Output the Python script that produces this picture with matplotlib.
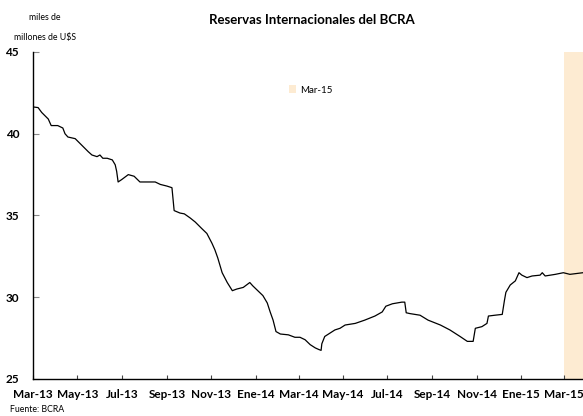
import matplotlib
matplotlib.use("Agg")
import matplotlib.pyplot as plt
from matplotlib.patches import Patch
import pandas as pd

plt.rcParams['font.family'] = ['Lato', 'DejaVu Sans']

dates = ["2013-03-01", "2013-03-08", "2013-03-13", "2013-03-22", "2013-03-26", "2013-04-04",
         "2013-04-11", "2013-04-14", "2013-04-18", "2013-04-28", "2013-05-07", "2013-05-16",
         "2013-05-21", "2013-05-28", "2013-06-01", "2013-06-05", "2013-06-11", "2013-06-18",
         "2013-06-22", "2013-06-24", "2013-06-26", "2013-07-01", "2013-07-10", "2013-07-18",
         "2013-07-26", "2013-08-06", "2013-08-16", "2013-08-23", "2013-09-01", "2013-09-08",
         "2013-09-11", "2013-09-19", "2013-09-25", "2013-10-03", "2013-10-10", "2013-10-19",
         "2013-10-26", "2013-11-02", "2013-11-06", "2013-11-10", "2013-11-16", "2013-11-23",
         "2013-11-30", "2013-12-06", "2013-12-15", "2013-12-24", "2013-12-28", "2014-01-04",
         "2014-01-11", "2014-01-17", "2014-01-21", "2014-01-25", "2014-01-29", "2014-02-04",
         "2014-02-15", "2014-02-24", "2014-03-03", "2014-03-10", "2014-03-17", "2014-03-24",
         "2014-03-29", "2014-04-01", "2014-04-02", "2014-04-06", "2014-04-13", "2014-04-20",
         "2014-04-27", "2014-05-04", "2014-05-18", "2014-05-31", "2014-06-14", "2014-06-24",
         "2014-06-29", "2014-07-08", "2014-07-21", "2014-07-25", "2014-07-27", "2014-08-01",
         "2014-08-15", "2014-08-26", "2014-09-12", "2014-09-25", "2014-10-09", "2014-10-19",
         "2014-10-27", "2014-10-30", "2014-11-08", "2014-11-15", "2014-11-17", "2014-11-26",
         "2014-12-06", "2014-12-09", "2014-12-11", "2014-12-17", "2014-12-24", "2014-12-29",
         "2015-01-02", "2015-01-09", "2015-01-16", "2015-01-27", "2015-01-30", "2015-02-03",
         "2015-02-17", "2015-02-28", "2015-03-09", "2015-03-27"]
reservas = [41.64, 41.6, 41.3, 40.9, 40.5, 40.5,
            40.35, 40.0, 39.8, 39.7, 39.3, 38.9,
            38.7, 38.6, 38.7, 38.5, 38.5, 38.4,
            38.1, 37.7, 37.05, 37.2, 37.5, 37.4,
            37.05, 37.05, 37.05, 36.9, 36.8, 36.7,
            35.3, 35.15, 35.1, 34.85, 34.6, 34.2,
            33.9, 33.3, 32.9, 32.4, 31.5, 30.9,
            30.4, 30.5, 30.6, 30.9, 30.7, 30.4,
            30.1, 29.65, 29.1, 28.6, 27.9, 27.75,
            27.7, 27.55, 27.55, 27.4, 27.1, 26.9,
            26.8, 26.75, 27.15, 27.6, 27.8, 28.0,
            28.1, 28.3, 28.4, 28.6, 28.85, 29.1,
            29.45, 29.6, 29.7, 29.7, 29.05, 29.0,
            28.9, 28.6, 28.3, 28.0, 27.6, 27.3,
            27.3, 28.1, 28.2, 28.4, 28.85, 28.9,
            28.95, 29.8, 30.3, 30.75, 31.0, 31.5,
            31.35, 31.2, 31.3, 31.35, 31.5, 31.3,
            31.4, 31.5, 31.4, 31.5]

tick_dates = ["2013-03-01", "2013-05-01", "2013-07-01", "2013-09-01", "2013-11-01", "2014-01-01",
              "2014-03-01", "2014-05-01", "2014-07-01", "2014-09-01", "2014-11-01", "2015-01-01",
              "2015-03-01"]
tick_labels = ["Mar-13", "May-13", "Jul-13", "Sep-13", "Nov-13", "Ene-14", "Mar-14",
               "May-14", "Jul-14", "Sep-14", "Nov-14", "Ene-15", "Mar-15"]
y_ticks = [25, 30, 35, 40, 45]
shade_start, shade_end = "2015-03-01", "2015-03-31"

x = pd.to_datetime(dates)

fig = plt.figure(figsize=(5.83, 4.16), dpi=100)
ax = fig.add_axes([0.0566, 0.089, 0.9434, 0.786])

ax.axvspan(pd.Timestamp(shade_start), pd.Timestamp(shade_end), color='#FDEBD2', lw=0, zorder=0)
ax.plot(x, reservas, color='black', lw=0.9, zorder=2)

ax.set_xlim(pd.Timestamp("2013-03-01"), pd.Timestamp("2015-03-27"))
ax.set_ylim(25, 45)
ax.set_yticks(y_ticks)
ax.set_yticklabels([str(v) for v in y_ticks], fontweight='bold', fontsize=8.5)
ax.set_xticks(pd.to_datetime(tick_dates))
ax.set_xticklabels(tick_labels, fontweight='bold', fontsize=8.5)
ax.tick_params(axis='x', direction='in', length=3, width=0.8, color='#444444', pad=7)
ax.tick_params(axis='y', direction='in', length=4, width=0.8, color='#888888', pad=10)
for s in ['top', 'right']:
    ax.spines[s].set_visible(False)
for s in ['left', 'bottom']:
    ax.spines[s].set_linewidth(1.0)

leg = ax.legend(handles=[Patch(facecolor='#FDEBD2', edgecolor='none', label='Mar-15')],
                loc='center', bbox_to_anchor=(0.533, 0.784), bbox_transform=fig.transFigure,
                frameon=False, fontsize=7, handlelength=0.7, handleheight=0.9, handletextpad=0.4)

fig.text(0.535, 0.952, "Reservas Internacionales del BCRA", ha='center', va='center',
         fontweight='bold', fontsize=9.5)
fig.text(0.077, 0.959, "miles de", ha='center', va='center', fontsize=6.3)
fig.text(0.077, 0.909, "millones de U$S", ha='center', va='center', fontsize=6.3)
fig.text(0.017, 0.015, "Fuente: BCRA", ha='left', va='center', fontsize=6.3)

fig.savefig("out.png", dpi=100)
